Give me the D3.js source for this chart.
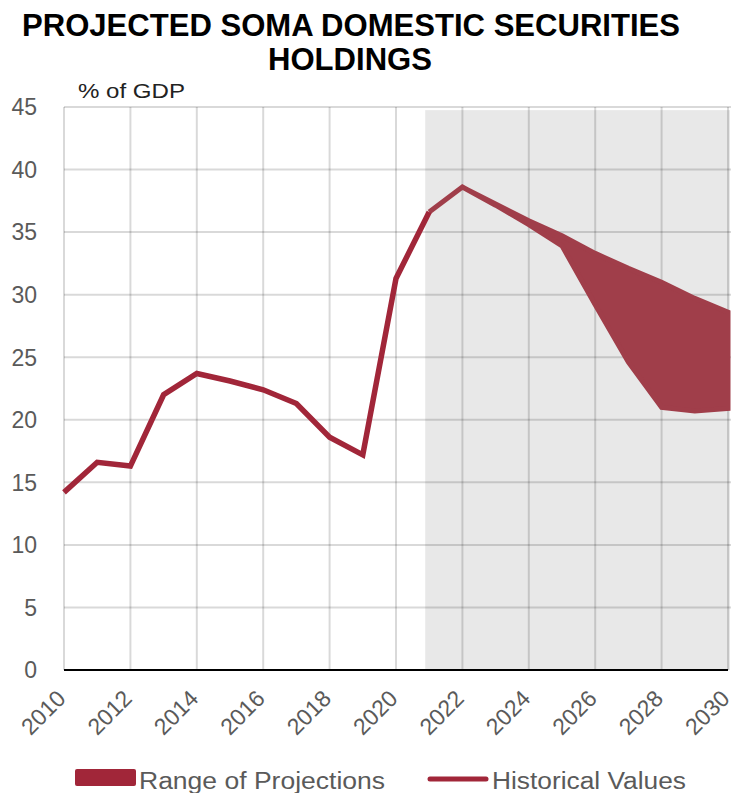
<!DOCTYPE html>
<html>
<head>
<meta charset="utf-8">
<script src="https://cdn.jsdelivr.net/npm/d3@7"></script>
<style>
  html, body { margin: 0; padding: 0; background: #fff; }
  svg { display: block; }
</style>
</head>
<body>
<svg id="chart" width="736" height="793"></svg>
<script>
// ---- Data ----
const histYears  = [2010, 2011, 2012, 2013, 2014, 2015, 2016, 2017, 2018, 2019, 2020, 2021];
const histValues = [14.2, 16.6, 16.3, 22.0, 23.7, 23.1, 22.4, 21.3, 18.6, 17.2, 31.3, 36.6];

const projYears  = [2021, 2022, 2023, 2024, 2025, 2026, 2027, 2028, 2029, 2030];
const projUpper  = [36.6, 38.6, 37.25, 35.9, 34.7, 33.3, 32.1, 31.0, 29.7, 28.6];
const projLower  = [36.6, 38.6, 37.15, 35.6, 33.9, 29.2, 24.6, 21.0, 20.7, 20.9];

const xTickYears = [2010, 2012, 2014, 2016, 2018, 2020, 2022, 2024, 2026, 2028, 2030];
const yTicks     = [0, 5, 10, 15, 20, 25, 30, 35, 40, 45];
const projectionStart = 2020.88;

const titleLines = ["PROJECTED SOMA DOMESTIC SECURITIES", "HOLDINGS"];
const unitLabel = "% of GDP";
const legendLabels = ["Range of Projections", "Historical Values"];

(function () {
// ---- Setup ----
const svg = d3.select("#chart");
const pLeft = 64, pRight = 728, pTop = 107, pBottom = 670;
const x = d3.scaleLinear().domain([2010, 2030]).range([pLeft, pRight]);
const y = d3.scaleLinear().domain([0, 45]).range([pBottom, pTop]);

const lineColor = "#a12639";
const bandColor = "#a03e4a";
const textGray = "#5a5a5a";
const fontFam = "'Liberation Sans', Arial, Helvetica, sans-serif";

// Title
svg.append("text")
  .attr("x", 351).attr("y", 36)
  .attr("text-anchor", "middle")
  .attr("font-family", fontFam).attr("font-weight", "bold")
  .attr("font-size", 31).attr("fill", "#000")
  .attr("textLength", 658).attr("lengthAdjust", "spacingAndGlyphs")
  .text(titleLines[0]);
svg.append("text")
  .attr("x", 350).attr("y", 70)
  .attr("text-anchor", "middle")
  .attr("font-family", fontFam).attr("font-weight", "bold")
  .attr("font-size", 31).attr("fill", "#000")
  .attr("textLength", 164).attr("lengthAdjust", "spacingAndGlyphs")
  .text(titleLines[1]);

// unit label
svg.append("text")
  .attr("x", 78).attr("y", 98)
  .attr("font-family", fontFam).attr("font-size", 20).attr("fill", "#222")
  .attr("textLength", 107).attr("lengthAdjust", "spacingAndGlyphs")
  .text(unitLabel);

// Projection shading
svg.append("rect")
  .attr("x", x(projectionStart)).attr("y", y(44.75))
  .attr("width", 730 - x(projectionStart))
  .attr("height", y(0) - y(44.75))
  .attr("fill", "#e8e8e8");

// Gridlines
const grid = svg.append("g").attr("stroke", "rgba(0,0,0,0.15)").attr("stroke-width", 2);
grid.selectAll("line.h").data(yTicks.filter(d => d > 0)).join("line")
  .attr("class", "h")
  .attr("x1", pLeft).attr("x2", 731)
  .attr("y1", d => y(d)).attr("y2", d => y(d));
grid.selectAll("line.v").data(xTickYears).join("line")
  .attr("class", "v")
  .attr("x1", d => x(d)).attr("x2", d => x(d))
  .attr("y1", pTop).attr("y2", pBottom);

// y tick labels
svg.append("g").selectAll("text").data(yTicks).join("text")
  .attr("x", 37).attr("y", d => y(d))
  .attr("dy", "0.36em")
  .attr("text-anchor", "end")
  .attr("font-family", fontFam).attr("font-size", 23).attr("fill", textGray)
  .text(d => d);

// x tick labels
svg.append("g").selectAll("text").data(xTickYears).join("text")
  .attr("transform", d => `translate(${x(d) + 3},${700}) rotate(-45)`)
  .attr("text-anchor", "end")
  .attr("font-family", fontFam).attr("font-size", 23).attr("fill", textGray)
  .text(d => d);

// Projection band
const projData = projYears.map((yr, i) => ({ yr, hi: projUpper[i], lo: projLower[i] }));
const area = d3.area()
  .x(d => x(d.yr))
  .y0(d => y(d.lo))
  .y1(d => y(d.hi));
svg.append("path")
  .datum(projData)
  .attr("d", area)
  .attr("fill", bandColor)
  .attr("stroke", bandColor)
  .attr("stroke-width", 5)
  .attr("stroke-linejoin", "miter");

// Historical line
const histData = histYears.map((yr, i) => ({ yr, v: histValues[i] }));
svg.append("path")
  .datum(histData)
  .attr("d", d3.line().x(d => x(d.yr)).y(d => y(d.v)))
  .attr("fill", "none")
  .attr("stroke", lineColor)
  .attr("stroke-width", 5.5)
  .attr("stroke-linejoin", "miter");

// x axis line
svg.append("line")
  .attr("x1", pLeft).attr("x2", pRight)
  .attr("y1", y(0)).attr("y2", y(0))
  .attr("stroke", "#000").attr("stroke-width", 2);

// Legend
svg.append("rect")
  .attr("x", 75).attr("y", 769).attr("width", 61).attr("height", 17)
  .attr("rx", 2).attr("fill", lineColor);
svg.append("text")
  .attr("x", 139).attr("y", 789)
  .attr("font-family", fontFam).attr("font-size", 23).attr("fill", textGray)
  .attr("textLength", 246).attr("lengthAdjust", "spacingAndGlyphs")
  .text(legendLabels[0]);
svg.append("line")
  .attr("x1", 430).attr("x2", 486).attr("y1", 779).attr("y2", 779)
  .attr("stroke", lineColor).attr("stroke-width", 5).attr("stroke-linecap", "round");
svg.append("text")
  .attr("x", 492).attr("y", 789)
  .attr("font-family", fontFam).attr("font-size", 23).attr("fill", textGray)
  .attr("textLength", 194).attr("lengthAdjust", "spacingAndGlyphs")
  .text(legendLabels[1]);
})();
</script>
</body>
</html>
